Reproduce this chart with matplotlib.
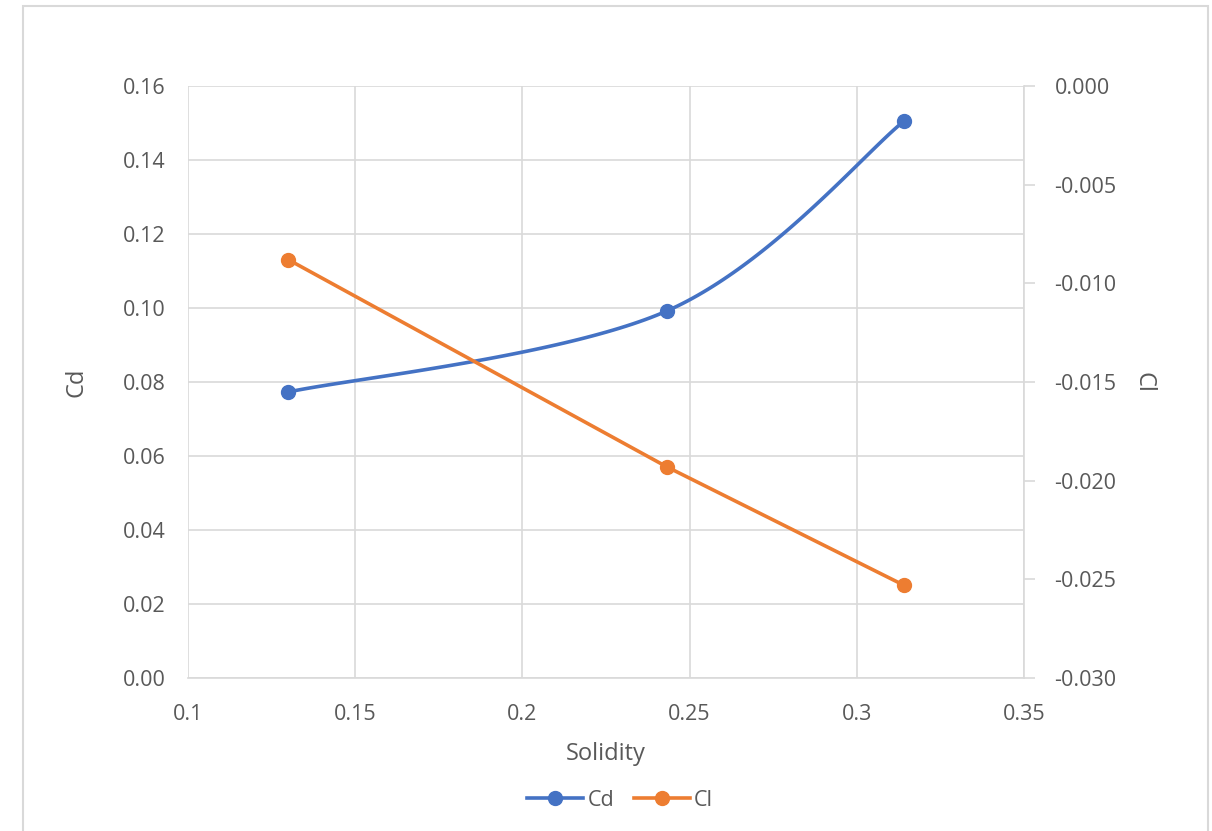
import numpy as np
import matplotlib
matplotlib.use("Agg")
import matplotlib.pyplot as plt
from matplotlib.patches import Rectangle
from matplotlib.lines import Line2D

solidity = [0.13, 0.2432, 0.3141]
cd = [0.0773, 0.0992, 0.1505]
cl = [-0.0088, -0.0193, -0.0253]

x_ticks = [0.1, 0.15, 0.2, 0.25, 0.3, 0.35]
x_labels = ["0.1", "0.15", "0.2", "0.25", "0.3", "0.35"]
cd_ticks = [0.00, 0.02, 0.04, 0.06, 0.08, 0.10, 0.12, 0.14, 0.16]
cl_ticks = [0.000, -0.005, -0.010, -0.015, -0.020, -0.025, -0.030]

BLUE = "#4472C4"
ORANGE = "#ED7D31"
GRID = "#D9D9D9"
TXT = "#595959"

plt.rcParams['font.family'] = ['Open Sans', 'DejaVu Sans']

fig = plt.figure(figsize=(12.12, 8.31), dpi=100)
fig.patches.append(Rectangle((23/1212, -0.01), (1208-23)/1212, 1.01 - 6/831,
                             transform=fig.transFigure, fill=False,
                             edgecolor=GRID, linewidth=1.5))

ax = fig.add_axes([188/1212, 1-678/831, (1024-188)/1212, (678-86)/831])
ax2 = ax.twinx()

def catmull(xs, ys, n=60):
    # Excel-style smoothed line through the given points (rendering only)
    P = np.column_stack([xs, ys])
    P = np.vstack([P[0], P, P[-1]])
    out = []
    for i in range(1, len(P) - 2):
        p0, p1, p2, p3 = P[i-1], P[i], P[i+1], P[i+2]
        t = np.linspace(0, 1, n)[:, None]
        c1 = p1 + (p2 - p0) / 6
        c2 = p2 - (p3 - p1) / 6
        seg = ((1-t)**3)*p1 + 3*((1-t)**2)*t*c1 + 3*(1-t)*t**2*c2 + t**3*p2
        out.append(seg)
    out = np.vstack(out)
    return out[:, 0], out[:, 1]

LW = 2.6
sx, sy = catmull(np.array(solidity), np.array(cd))
ax.plot(sx, sy, color=BLUE, lw=LW, solid_capstyle='round', zorder=3)
ax.plot(solidity, cd, 'o', color=BLUE, ms=10, zorder=4)

ax2.plot(solidity, cl, '-', color=ORANGE, lw=LW, zorder=3)
ax2.plot(solidity, cl, 'o', color=ORANGE, ms=10, zorder=4)

ax.set_xlim(0.1, 0.35)
ax.set_ylim(0, 0.16)
ax2.set_ylim(-0.03, 0.0)
ax.set_xticks(x_ticks)
ax.set_xticklabels(x_labels)
ax.set_yticks(cd_ticks)
ax.set_yticklabels([f"{v:.2f}" for v in cd_ticks])
ax2.set_yticks(cl_ticks)
ax2.set_yticklabels([f"{v:.3f}" for v in cl_ticks])

ax.grid(True, color=GRID, lw=1.2)
ax.set_axisbelow(True)
for a in (ax, ax2):
    for s in a.spines.values():
        s.set_visible(False)
ax.spines['bottom'].set_visible(True)
ax.spines['bottom'].set_color(GRID)
ax.spines['bottom'].set_linewidth(1.2)
ax2.spines['right'].set_visible(True)
ax2.spines['right'].set_color(GRID)
ax2.spines['right'].set_linewidth(1.2)

FS = 15.5
ax.tick_params(axis='both', length=0, labelsize=FS, labelcolor=TXT)
ax.tick_params(axis='x', pad=19)
ax.tick_params(axis='y', pad=16)
ax2.tick_params(axis='y', length=8, color=GRID, width=1.2, labelsize=FS,
                labelcolor=TXT, pad=14)

ax.set_xlabel("Solidity", fontsize=17, color=TXT, labelpad=12)
ax.set_ylabel("Cd", fontsize=17, color=TXT, labelpad=25)
ax2.set_ylabel("Cl", fontsize=17, color=TXT, rotation=270, labelpad=28)

handles = [Line2D([], [], color=BLUE, lw=LW, marker='o', ms=10),
           Line2D([], [], color=ORANGE, lw=LW, marker='o', ms=10)]
fig.legend(handles, ["Cd", "Cl"], loc='center', bbox_to_anchor=(620/1212, 1-800/831),
           ncol=2, frameon=False, fontsize=FS, labelcolor=TXT,
           handlelength=2.6, handletextpad=0.2, columnspacing=0.9)

fig.savefig("out.png", dpi=100)
